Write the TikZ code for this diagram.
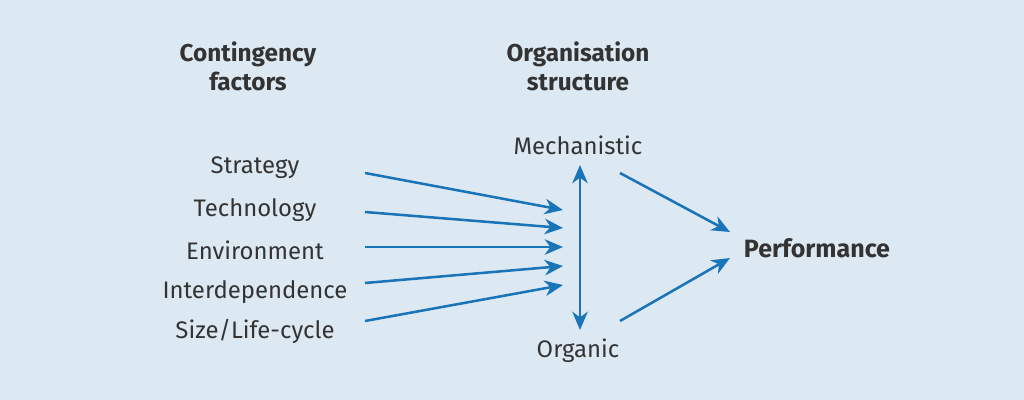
\documentclass[tikz,border=0pt]{standalone}
\usepackage{fontspec}
\setmainfont{Fira Sans}
\usetikzlibrary{arrows.meta}
\definecolor{bg}{HTML}{DDE9F2}
\definecolor{arrowblue}{HTML}{1A74B8}
\definecolor{txt}{HTML}{333333}
\tikzset{
  lbl/.style={text=txt, font=\fontsize{17}{20}\selectfont, inner sep=0pt},
  head/.style={text=txt, font=\fontsize{17.3}{20.5}\selectfont\bfseries, align=center, inner sep=0pt},
  conn/.style={draw=arrowblue, line width=1.8pt, -{Stealth[length=13pt,width=11pt,inset=4pt]}},
}
\begin{document}
\begin{tikzpicture}[x=0.025cm,y=-0.025cm]
\fill[bg] (0,0) rectangle (1024,400);
\useasboundingbox (0,0) rectangle (1024,400);
\node[head] (cf) at (248,66) {Contingency\\factors};
\node[head] (os) at (578,66) {Organisation\\structure};
\node[lbl] (strat) at (255,168) {Strategy};
\node[lbl] (tech) at (255,210) {Technology};
\node[lbl] (env) at (255,250) {Environment};
\node[lbl] (inter) at (255,292) {Interdependence};
\node[lbl] (size) at (255,331) {Size/Life-cycle};
\node[lbl] (mech) at (578,145) {Mechanistic};
\node[lbl] (org) at (578,351) {Organic};
\node[head, font=\fontsize{17.8}{21}\selectfont\bfseries] (perf) at (817,248) {Performance};
\coordinate (s1) at (365,173); \coordinate (e1) at (563,210);
\coordinate (s2) at (365,212); \coordinate (e2) at (563,228);
\coordinate (s3) at (365,247); \coordinate (e3) at (563,247);
\coordinate (s4) at (365,283); \coordinate (e4) at (563,266);
\coordinate (s5) at (365,321); \coordinate (e5) at (563,285);
\coordinate (vt) at (580,165); \coordinate (vb) at (580,330);
\coordinate (mt) at (620,173); \coordinate (pt) at (730,232);
\coordinate (mb) at (620,321); \coordinate (pb) at (730,258);
\draw[conn] (s1) -- (e1);
\draw[conn] (s2) -- (e2);
\draw[conn] (s3) -- (e3);
\draw[conn] (s4) -- (e4);
\draw[conn] (s5) -- (e5);
\draw[conn, {Stealth[length=13pt,width=11pt,inset=4pt]}-{Stealth[length=13pt,width=11pt,inset=4pt]}] (vt) -- (vb);
\draw[conn] (mt) -- (pt);
\draw[conn] (mb) -- (pb);
\end{tikzpicture}
\end{document}
